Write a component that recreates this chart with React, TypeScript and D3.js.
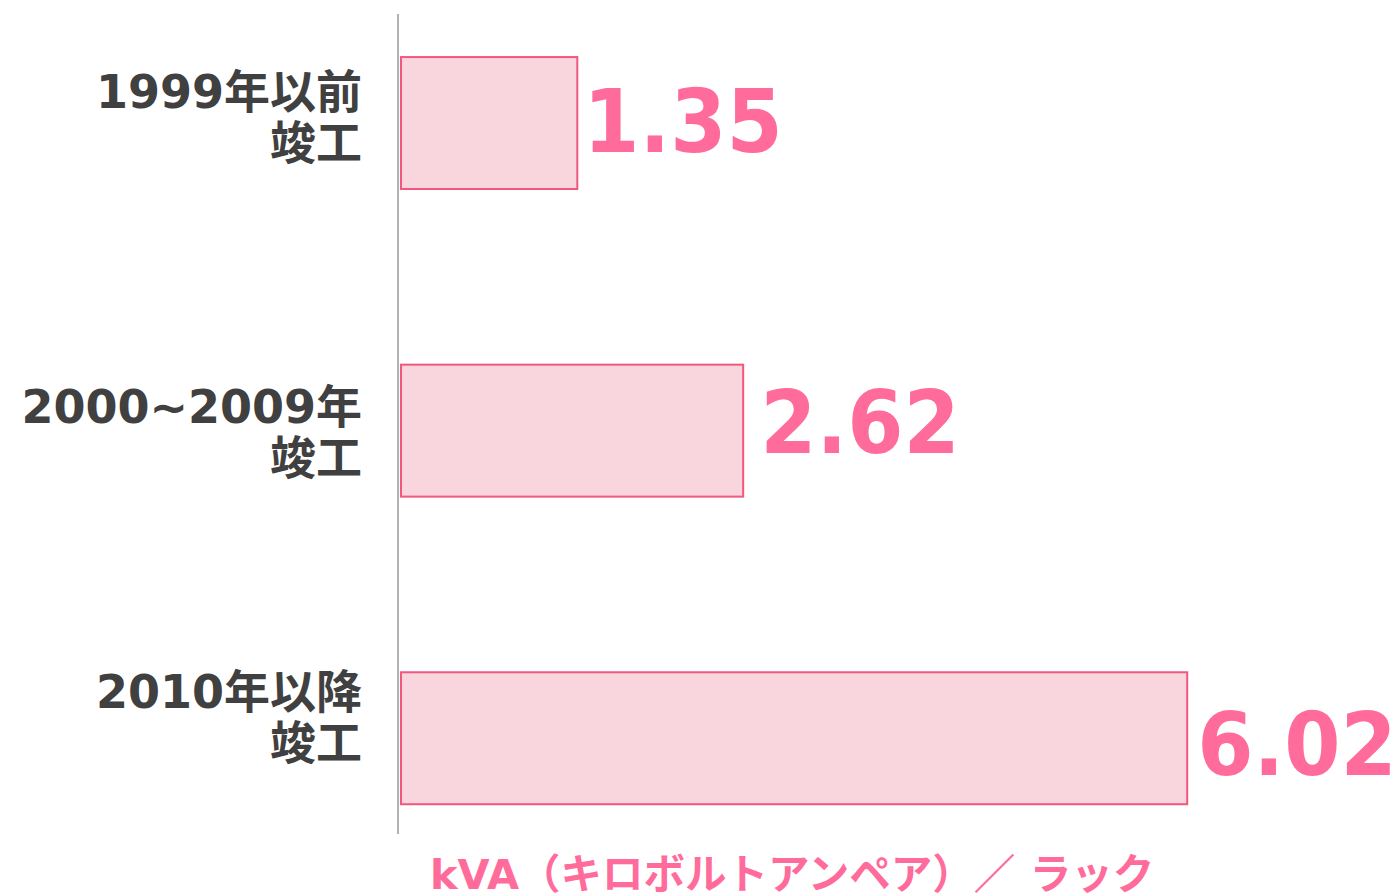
import React from "react";
import * as d3 from "d3";

const categories = ["1999年以前", "2000~2009年", "2010年以降"];
const categorySecondLine = ["竣工", "竣工", "竣工"];
const values = [1.35, 2.62, 6.02];
const axisTitle = "kVA（キロボルトアンペア）／ ラック";

// layout nudges (reference text boxes are not perfectly centred on bars)
const catLabelShift = [-15, -8, -30.5];
const valLabelShift = [29, 22, 36.5];
const valLabelDx = [6, 17, 10];

const W = 1400;
const H = 896;
const GREY = "#404040";
const PINK = "#FF6C9B";
const BAR_FILL = "#F9D6DD";
const BAR_STROKE = "#F0587E";
const AXIS = "#B3B3B3";
const FONT = "'DejaVu Sans', 'Noto Sans CJK JP', sans-serif";

export default function App() {
  const x = d3.scaleLinear().domain([0, 7]).range([401, 401 + 7 * 130.6]);
  const y = d3
    .scaleBand<string>()
    .domain(categories)
    .range([14, 847.3])
    .paddingInner(0.571)
    .paddingOuter(0.14);

  return (
    <svg
      width={W}
      height={H}
      style={{ position: "absolute", left: 0, top: 0, display: "block", background: "#fff" }}
    >
      {categories.map((c, i) => {
        const y0 = y(c)!;
        const bw = y.bandwidth();
        const cy = y0 + bw / 2;
        const v = values[i];
        const tx = x(v) + valLabelDx[i];
        const ty = cy + valLabelShift[i];
        return (
          <g key={c}>
            <rect
              x={x(0)}
              y={y0}
              width={x(v) - x(0)}
              height={bw}
              fill={BAR_FILL}
              stroke={BAR_STROKE}
              strokeWidth={2}
            />
            <text
              transform={`translate(${tx},${ty}) scale(0.93,1)`}
              fill={PINK}
              fontFamily={FONT}
              fontWeight="bold"
              fontSize={87}
            >
              {d3.format(".2f")(v)}
            </text>
            <text
              x={362}
              y={cy + catLabelShift[i]}
              fill={GREY}
              fontFamily={FONT}
              fontWeight="bold"
              fontSize={46}
              textAnchor="end"
            >
              {c}
            </text>
            <text
              x={362}
              y={cy + catLabelShift[i] + 51}
              fill={GREY}
              fontFamily={FONT}
              fontWeight="bold"
              fontSize={46}
              textAnchor="end"
            >
              {categorySecondLine[i]}
            </text>
          </g>
        );
      })}
      <line x1={398} x2={398} y1={14} y2={834} stroke={AXIS} strokeWidth={2} />
      <text
        x={430}
        y={889}
        fill={PINK}
        fontFamily={FONT}
        fontWeight="bold"
        fontSize={41.5}
      >
        {axisTitle}
      </text>
    </svg>
  );
}
